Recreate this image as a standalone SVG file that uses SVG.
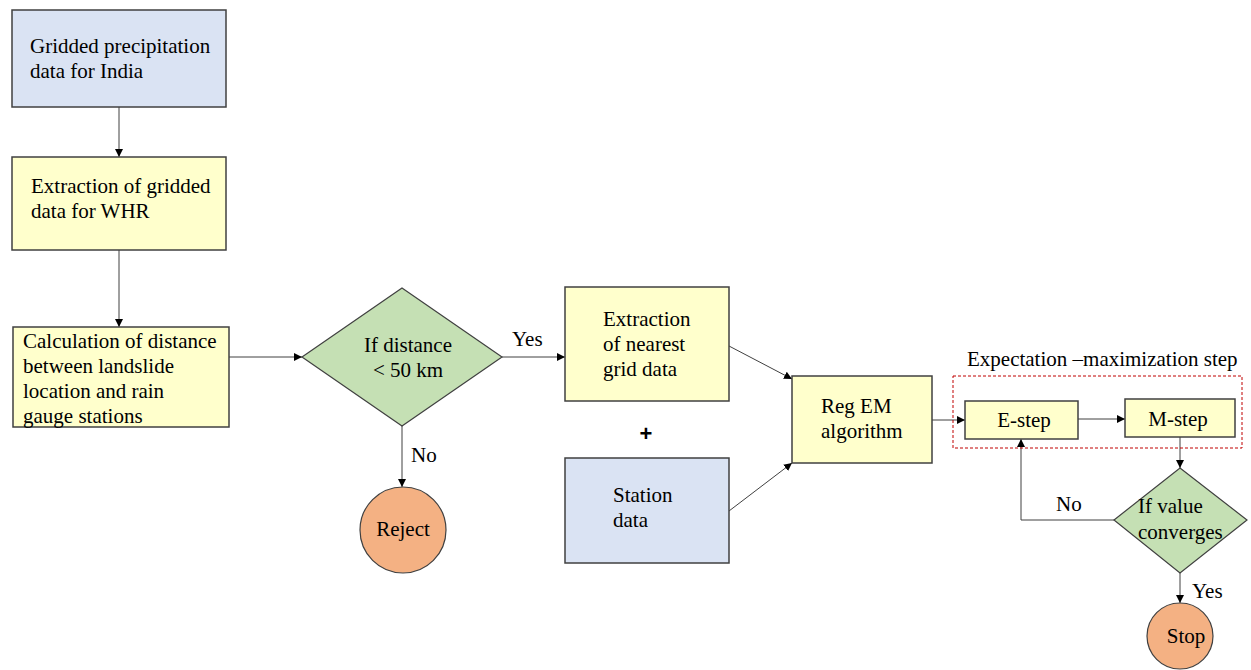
<svg xmlns="http://www.w3.org/2000/svg" width="1251" height="670" viewBox="0 0 1251 670" font-family="'Liberation Serif', 'Times New Roman', serif">
<defs>
<marker id="arr" viewBox="0 0 10 10" refX="10" refY="5" markerWidth="8" markerHeight="8" markerUnits="userSpaceOnUse" orient="auto">
<path d="M0,0 L10,5 L0,10 z" fill="#000"/>
</marker>
</defs>
<style>
text{font-family:'Liberation Serif','Times New Roman',serif;font-size:21px;fill:#000}
.blue{fill:#dae3f3;stroke:#404040;stroke-width:1.5}
.yel{fill:#ffffcc;stroke:#404040;stroke-width:1.5}
.grn{fill:#c5e0b4;stroke:#404040;stroke-width:1.2}
.org{fill:#f4b183;stroke:#404040;stroke-width:1.2}
.c{fill:none;stroke:#404040;stroke-width:1;marker-end:url(#arr)}
.mid{text-anchor:middle}
</style>
<rect width="1251" height="670" fill="#fff"/>
<g id="connectors">
<line class="c" x1="119" y1="107" x2="119" y2="157"/>
<line class="c" x1="119" y1="250" x2="119" y2="327"/>
<line class="c" x1="229" y1="357" x2="302" y2="357"/>
<line class="c" x1="402" y1="426" x2="402" y2="487"/>
<line class="c" x1="502" y1="357" x2="565" y2="357"/>
<line class="c" x1="729" y1="346" x2="792" y2="379"/>
<line class="c" x1="729" y1="511" x2="792" y2="463"/>
<line class="c" x1="932" y1="420" x2="965" y2="420"/>
<line class="c" x1="1078" y1="419" x2="1125" y2="419"/>
<line class="c" x1="1180" y1="437" x2="1180" y2="468"/>
<polyline class="c" points="1114,520 1021,520 1021,439"/>
<line class="c" x1="1180" y1="573" x2="1180" y2="603"/>
<text x="411" y="462">No</text>
<text x="512" y="346">Yes</text>
<text x="1056" y="511">No</text>
<text x="1192" y="598">Yes</text>
</g>
<g id="n1"><rect class="blue" x="12" y="10" width="214" height="97"/><text x="30" y="53">Gridded precipitation</text><text x="30" y="78">data for India</text></g>
<g id="n2"><rect class="yel" x="12" y="157" width="214" height="93"/><text x="31" y="193">Extraction of gridded</text><text x="31" y="218">data for WHR</text></g>
<g id="n3"><rect class="yel" x="13" y="327" width="216" height="100"/><text x="23" y="348">Calculation of distance</text><text x="23" y="373">between landslide</text><text x="23" y="398">location and rain</text><text x="23" y="423">gauge stations</text></g>
<g id="n4"><polygon class="grn" points="402,288 502,357 402,426 302,357"/><text class="mid" x="408" y="352">If distance</text><text class="mid" x="408" y="377">&lt; 50 km</text></g>
<g id="n5"><circle class="org" cx="403" cy="530" r="43"/><text class="mid" x="403" y="536">Reject</text></g>
<g id="n6"><rect class="yel" x="565" y="287" width="164" height="114"/><text x="603" y="326">Extraction</text><text x="603" y="351">of nearest</text><text x="603" y="376">grid data</text></g>
<g id="plus"><text class="mid" x="646" y="441" style="font-family:'Liberation Sans',Arial,sans-serif;font-weight:bold;font-size:22px">+</text></g>
<g id="n7"><rect class="blue" x="565" y="458" width="164" height="105"/><text x="613" y="502">Station</text><text x="613" y="527">data</text></g>
<g id="n8"><rect class="yel" x="792" y="376" width="140" height="87"/><text x="821" y="413">Reg EM</text><text x="821" y="438">algorithm</text></g>
<g id="em"><rect x="953" y="376" width="289" height="72" fill="none" stroke="#c00000" stroke-width="1" stroke-dasharray="3,2"/><text x="967" y="366">Expectation –maximization step</text></g>
<g id="n9"><rect class="yel" x="965" y="401" width="113" height="38"/><text class="mid" x="1024" y="427">E-step</text></g>
<g id="n10"><rect class="yel" x="1125" y="399" width="110" height="38"/><text class="mid" x="1178" y="426">M-step</text></g>
<g id="n11"><polygon class="grn" points="1180,468 1247,520 1180,573 1114,520"/><text x="1138" y="513">If value</text><text x="1138" y="539">converges</text></g>
<g id="n12"><circle class="org" cx="1180" cy="636" r="33"/><text class="mid" x="1186" y="643">Stop</text></g>
</svg>
